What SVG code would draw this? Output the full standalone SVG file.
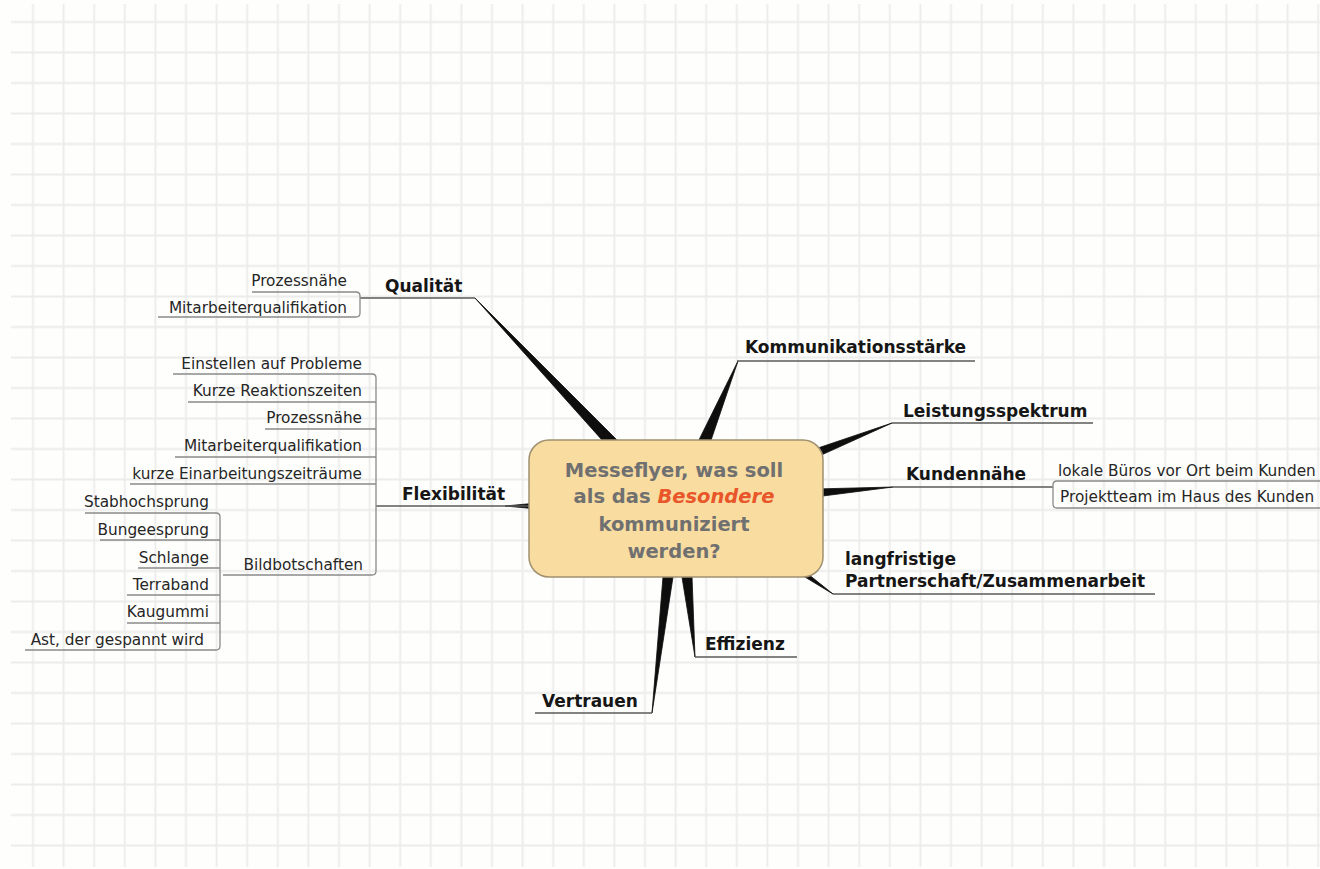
<svg xmlns="http://www.w3.org/2000/svg" width="1320" height="869" viewBox="0 0 1320 869">
<defs>
<pattern id="grid" x="17.7" y="6.75" width="30.6" height="30.5" patternUnits="userSpaceOnUse">
<path d="M15.3,0 V30.5 M0,15.25 H30.6" stroke="#ececec" stroke-width="1.8" fill="none"/>
</pattern>
</defs>
<style>
.main{font-family:"DejaVu Sans","Liberation Sans",sans-serif;font-weight:bold;font-size:17px;fill:#161616}
.sub{font-family:"DejaVu Sans","Liberation Sans",sans-serif;font-size:15.3px;fill:#262626}
.end{text-anchor:end}
.ctr{font-family:"DejaVu Sans","Liberation Sans",sans-serif;font-weight:bold;font-size:19.5px;fill:#707070;text-anchor:middle}
.ul{fill:none;stroke:#5a5a5a;stroke-width:1.5}
.sl{fill:none;stroke:#8a8a8a;stroke-width:1.3}
.wedge{fill:#0e0e0e;stroke:#0e0e0e;stroke-width:0.8;stroke-linejoin:round}
</style>
<rect x="0" y="0" width="1320" height="869" fill="#fefefc"/>
<rect x="11" y="4" width="1309" height="863" fill="url(#grid)"/>

<g id="connectors">
<polygon class="wedge" points="475,298 612.7,452 629,452"/>
<polygon class="wedge" points="738,361 693,452 707,452"/>
<polygon class="wedge" points="892,423 815,449 817,457"/>
<polygon class="wedge" points="893,487 815,489 815,497"/>
<polygon class="wedge" points="833,594 798,566 795,571"/>
<polygon class="wedge" points="695,657 680.5,568 691.7,568"/>
<polygon class="wedge" points="652,713 663.7,568 674.4,568"/>
<polygon class="wedge" points="505,506 532,503.5 532,508.5"/>
<path class="ul" d="M360,298 H475"/>
<path class="ul" d="M737,361 H975"/>
<path class="ul" d="M892,423 H1093"/>
<path class="ul" d="M893,487 H1053"/>
<path class="ul" d="M833,594 H1155"/>
<path class="ul" d="M695,657 H797"/>
<path class="ul" d="M535,713 H652"/>
<path class="ul" d="M376,506 H530"/>
<path class="sl" d="M252,292 H356 Q360,292 360,296 V313 Q360,317 356,317 H158"/>
<path class="sl" d="M173,374 H372 Q376,374 376,378 V571 Q376,575 372,575 H223"/>
<path class="sl" d="M188,402 H376 M265,429 H376 M175,457 H376 M130,484 H376"/>
<path class="sl" d="M85,513 H216 Q220,513 220,517 V646 Q220,650 216,650 H25"/>
<path class="sl" d="M100,540 H220 M138,568 H220 M127,595 H220 M127,623 H220"/>
<path class="sl" d="M1320,481 H1057 Q1053,481 1053,485 V504 Q1053,508 1057,508 H1320"/>
</g>

<g id="center">
<rect x="529" y="440" width="294" height="137" rx="20" ry="20" fill="#f9dca0" stroke="#a0906f" stroke-width="1.5"/>
<text class="ctr" x="674" y="477">Messeflyer, was soll</text>
<text class="ctr" x="674" y="503">als das <tspan font-style="italic" fill="#e8562a">Besondere</tspan></text>
<text class="ctr" x="674" y="531">kommuniziert</text>
<text class="ctr" x="674" y="558">werden?</text>
</g>

<g id="qualitaet">
<text class="main" x="385" y="292">Qualität</text>
</g>
<g id="qualitaet-prozessnaehe"><text class="sub end" x="347" y="286">Prozessnähe</text></g>
<g id="qualitaet-mitarbeiter"><text class="sub end" x="347" y="313">Mitarbeiterqualifikation</text></g>

<g id="kommunikation"><text class="main" x="745" y="353">Kommunikationsstärke</text></g>
<g id="leistung"><text class="main" x="903" y="417">Leistungsspektrum</text></g>
<g id="kundennaehe"><text class="main" x="906" y="480">Kundennähe</text></g>
<g id="kunden-buero"><text class="sub" x="1058" y="476">lokale Büros vor Ort beim Kunden</text></g>
<g id="kunden-team"><text class="sub" x="1060" y="502">Projektteam im Haus des Kunden</text></g>
<g id="partnerschaft">
<text class="main" x="845" y="565">langfristige</text>
<text class="main" x="845" y="587">Partnerschaft/Zusammenarbeit</text>
</g>
<g id="effizienz"><text class="main" x="705" y="650">Effizienz</text></g>
<g id="vertrauen"><text class="main" x="542" y="707">Vertrauen</text></g>

<g id="flexibilitaet"><text class="main" x="402" y="500">Flexibilität</text></g>
<g id="flex-einstellen"><text class="sub end" x="362" y="369">Einstellen auf Probleme</text></g>
<g id="flex-reaktion"><text class="sub end" x="362" y="396">Kurze Reaktionszeiten</text></g>
<g id="flex-prozess"><text class="sub end" x="362" y="423">Prozessnähe</text></g>
<g id="flex-mitarbeiter"><text class="sub end" x="362" y="451">Mitarbeiterqualifikation</text></g>
<g id="flex-einarbeitung"><text class="sub end" x="362" y="479">kurze Einarbeitungszeiträume</text></g>
<g id="flex-bild"><text class="sub end" x="363" y="570">Bildbotschaften</text></g>
<g id="bild-stab"><text class="sub end" x="209" y="507">Stabhochsprung</text></g>
<g id="bild-bungee"><text class="sub end" x="209" y="535">Bungeesprung</text></g>
<g id="bild-schlange"><text class="sub end" x="209" y="563">Schlange</text></g>
<g id="bild-terra"><text class="sub end" x="209" y="590">Terraband</text></g>
<g id="bild-kaugummi"><text class="sub end" x="209" y="617">Kaugummi</text></g>
<g id="bild-ast"><text class="sub end" x="204" y="645">Ast, der gespannt wird</text></g>
</svg>
